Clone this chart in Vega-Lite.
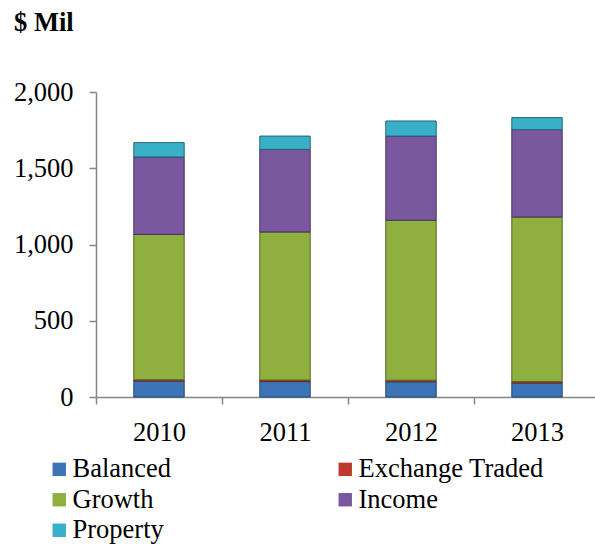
{
  "$schema": "https://vega.github.io/schema/vega-lite/v6.json",
  "width": 499,
  "height": 305,
  "autosize": {"type": "none"},
  "padding": {"left": 96, "top": 92, "right": 0, "bottom": 147},
  "background": "white",
  "config": {"font": "Liberation Serif", "view": {"stroke": null}},
  "title": {"text": "$ Mil", "anchor": "start", "frame": "group", "dx": -82, "fontSize": 26.5, "fontWeight": "bold", "font": "Liberation Serif", "color": "black", "baseline": "alphabetic", "offset": 22},
  "data": {"values": [
    {"year": "2010", "category": "Balanced", "value": 105},
    {"year": "2010", "category": "Exchange Traded", "value": 8},
    {"year": "2010", "category": "Growth", "value": 953},
    {"year": "2010", "category": "Income", "value": 508},
    {"year": "2010", "category": "Property", "value": 94},
    {"year": "2011", "category": "Balanced", "value": 101},
    {"year": "2011", "category": "Exchange Traded", "value": 10},
    {"year": "2011", "category": "Growth", "value": 971},
    {"year": "2011", "category": "Income", "value": 542},
    {"year": "2011", "category": "Property", "value": 87},
    {"year": "2012", "category": "Balanced", "value": 100},
    {"year": "2012", "category": "Exchange Traded", "value": 10},
    {"year": "2012", "category": "Growth", "value": 1049},
    {"year": "2012", "category": "Income", "value": 552},
    {"year": "2012", "category": "Property", "value": 99},
    {"year": "2013", "category": "Balanced", "value": 92},
    {"year": "2013", "category": "Exchange Traded", "value": 9},
    {"year": "2013", "category": "Growth", "value": 1079},
    {"year": "2013", "category": "Income", "value": 573},
    {"year": "2013", "category": "Property", "value": 79}
  ]},
  "mark": {"type": "bar", "width": {"band": 0.4}, "strokeWidth": 1},
  "encoding": {
    "x": {
      "field": "year", "type": "ordinal",
      "scale": {"paddingInner": 0, "paddingOuter": 0, "range": [0, 504]},
      "axis": {"title": null, "labelAngle": 0, "tickBand": "extent", "tickSize": 7, "tickColor": "#868686", "domainColor": "#868686", "domainWidth": 1.5, "tickWidth": 1.5, "labelFontSize": 26.5, "labelColor": "black", "labelPadding": 15, "labelFont": "Liberation Serif", "grid": false}
    },
    "y": {
      "field": "value", "type": "quantitative", "stack": "zero",
      "scale": {"domain": [0, 2000], "nice": false},
      "axis": {"title": null, "values": [0, 500, 1000, 1500, 2000], "format": ",.0f", "tickSize": 7, "tickColor": "#868686", "domainColor": "#868686", "domainWidth": 1.5, "tickWidth": 1.5, "labelFontSize": 26.5, "labelColor": "black", "labelPadding": 16, "labelFont": "Liberation Serif", "grid": false}
    },
    "order": {"field": "category", "type": "ordinal", "sort": "ascending"},
    "color": {
      "field": "category", "type": "nominal",
      "scale": {"domain": ["Balanced", "Exchange Traded", "Growth", "Income", "Property"], "range": ["#3d74b8", "#c0392f", "#8fb03e", "#7a58a0", "#3aafc8"]},
      "legend": {"orient": "none", "direction": "horizontal", "legendX": -50, "legendY": 364, "columns": 2, "symbolType": "square", "symbolSize": 180, "symbolStrokeWidth": 0, "labelFontSize": 26.5, "labelFont": "Liberation Serif", "labelColor": "black", "labelOffset": 0, "columnPadding": 160, "rowPadding": 3.5, "padding": 0, "title": null, "labelLimit": 400}
    },
    "stroke": {
      "field": "category", "type": "nominal",
      "scale": {"domain": ["Balanced", "Exchange Traded", "Growth", "Income", "Property"], "range": ["#25466e", "#7a221c", "#55691f", "#46325e", "#21687a"]},
      "legend": null
    }
  }
}
